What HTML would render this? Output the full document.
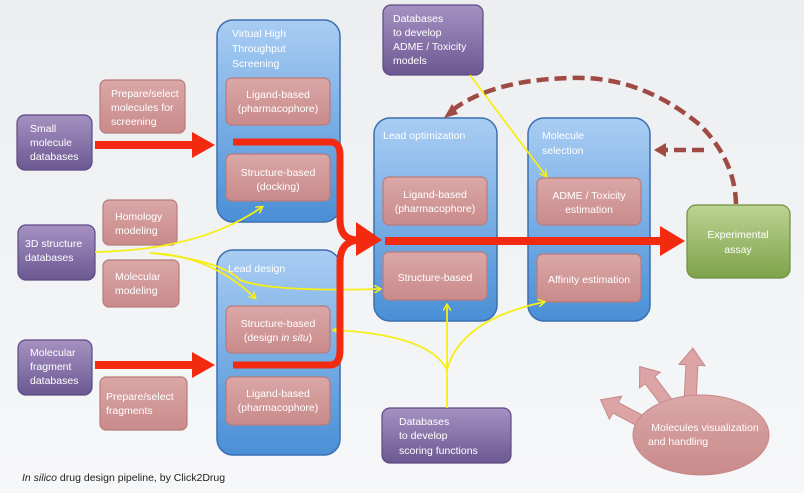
<!DOCTYPE html>
<html><head><meta charset="utf-8"><style>
body{margin:0;width:804px;height:493px;overflow:hidden;background:linear-gradient(#eceef0,#f6f7f9);font-family:"Liberation Sans",sans-serif}
svg{display:block}
svg text{font-family:"Liberation Sans",sans-serif;fill:#fff;font-size:10.5px}
</style></head><body>
<svg width="804" height="493" viewBox="0 0 804 493">
<defs>
<linearGradient id="blue" x1="0" y1="0" x2="0" y2="1"><stop offset="0" stop-color="#a9cdf3"/><stop offset="1" stop-color="#4a8fd6"/></linearGradient>
<linearGradient id="purp" x1="0" y1="0" x2="0" y2="1"><stop offset="0" stop-color="#a592c2"/><stop offset="1" stop-color="#6c5892"/></linearGradient>
<linearGradient id="pink" x1="0" y1="0" x2="0" y2="1"><stop offset="0" stop-color="#dba7a7"/><stop offset="1" stop-color="#c98a8a"/></linearGradient>
<linearGradient id="green" x1="0" y1="0" x2="0" y2="1"><stop offset="0" stop-color="#bcd494"/><stop offset="1" stop-color="#7ea24a"/></linearGradient>
<marker id="ya" markerWidth="8" markerHeight="8" refX="6" refY="4" orient="auto" markerUnits="userSpaceOnUse"><path d="M0,0 L7,4 L0,8" fill="none" stroke="#f5ee1a" stroke-width="1.5"/></marker>
</defs>
<g stroke="#3b6fb0" stroke-width="1.5">
<rect x="217" y="20" width="123" height="202" rx="16" fill="url(#blue)"/>
<rect x="217" y="250" width="123" height="205" rx="16" fill="url(#blue)"/>
<rect x="374" y="118" width="123" height="203" rx="16" fill="url(#blue)"/>
<rect x="528" y="118" width="122" height="203" rx="16" fill="url(#blue)"/>
</g>
<g stroke="#5d4a82" stroke-width="1.2" fill="url(#purp)">
<rect x="17" y="115" width="75" height="55" rx="8"/>
<rect x="18" y="225" width="77" height="55" rx="8"/>
<rect x="18" y="340" width="74" height="55" rx="8"/>
<rect x="383" y="5" width="100" height="70" rx="8"/>
<rect x="382" y="408" width="129" height="55" rx="8"/>
</g>
<g stroke="#b87b7b" stroke-width="1.2" fill="url(#pink)">
<rect x="100" y="80" width="85" height="53" rx="6"/>
<rect x="103" y="200" width="74" height="45" rx="6"/>
<rect x="103" y="260" width="76" height="47" rx="6"/>
<rect x="100" y="377" width="87" height="53" rx="6"/>
<rect x="226" y="78" width="104" height="47" rx="6"/>
<rect x="226" y="154" width="104" height="47" rx="6"/>
<rect x="226" y="306" width="104" height="47" rx="6"/>
<rect x="226" y="377" width="104" height="48" rx="6"/>
<rect x="383" y="177" width="104" height="48" rx="6"/>
<rect x="383" y="252" width="104" height="48" rx="6"/>
<rect x="537" y="178" width="104" height="47" rx="6"/>
<rect x="537" y="254" width="104" height="48" rx="6"/>
</g>
<rect x="687" y="205" width="103" height="73" rx="9" fill="url(#green)" stroke="#6f9040" stroke-width="1.2"/>
<!-- pink arrows -->
<g fill="#dca4a4" stroke="#c58888" stroke-width="1">
<path transform="translate(650,426) rotate(208)" d="M0,-6 L39,-6 L39,-13 L56,0 L39,13 L39,6 L0,6Z"/>
<path transform="translate(674,412) rotate(233)" d="M0,-6 L40,-6 L40,-13 L57,0 L40,13 L40,6 L0,6Z"/>
<path transform="translate(690,402) rotate(273)" d="M0,-6 L37,-6 L37,-13 L54,0 L37,13 L37,6 L0,6Z"/>
</g>
<ellipse cx="701" cy="435" rx="68" ry="40" fill="url(#pink)" stroke="#c58888"/>
<!-- yellow lines -->
<g stroke="#f5ee1a" stroke-width="1.8" fill="none">
<path d="M470,75 L546,176" marker-end="url(#ya)"/>
<path d="M95,252 Q200,250 262,207" marker-end="url(#ya)"/>
<path d="M150,253 Q210,255 255,298" marker-end="url(#ya)"/>
<path d="M150,253 Q220,260 240,280 Q270,292 380,289" marker-end="url(#ya)"/>
<path d="M447,408 L447,305" marker-end="url(#ya)"/>
<path d="M447,370 Q460,320 544,302" marker-end="url(#ya)"/>
<path d="M447,370 Q430,335 334,330" marker-end="url(#ya)"/>
</g>
<!-- red arrows -->
<g fill="#f22a10">
<path d="M95,141 L192,141 L192,132 L215,145 L192,158 L192,149 L95,149Z"/>
<path d="M95,361 L192,361 L192,352 L215,365 L192,378 L192,369 L95,369Z"/>
<path d="M385,237 L660,237 L660,226 L685,241 L660,256 L660,245 L385,245Z"/>
<path d="M356,229 L356,222 L382,240 L356,256 L356,249Z"/>
</g>
<g stroke="#f22a10" stroke-width="7" fill="none">
<path d="M233,142 L330,142 Q340,142 340,155 L340,220 Q340,240 358,240"/>
<path d="M233,365 L330,365 Q340,365 340,350 L340,262 Q340,242 358,240"/>
</g>
<!-- dashed brown -->
<g stroke="#a04a44" stroke-width="4.5" fill="none" stroke-dasharray="12,6">
<path d="M736,204 Q735,160 700,125 Q640,75 570,78 Q490,80 450,112"/>
<path d="M704,150 L662,150"/>
</g>
<path d="M444,118 L452,104 L458,114Z" fill="#a04a44"/>
<path d="M654,150 L666,143 L666,157Z" fill="#a04a44"/>
<!-- texts -->
<text x="30" y="132">Small</text><text x="30" y="146">molecule</text><text x="30" y="160">databases</text>
<text x="25" y="247">3D structure</text><text x="25" y="261">databases</text>
<text x="30" y="356">Molecular</text><text x="30" y="370">fragment</text><text x="30" y="384">databases</text>
<text x="393" y="22">Databases</text><text x="393" y="36">to develop</text><text x="393" y="50">ADME / Toxicity</text><text x="393" y="64">models</text>
<text x="399" y="425">Databases</text><text x="399" y="439">to develop</text><text x="399" y="454">scoring functions</text>
<text x="111" y="97">Prepare/select</text><text x="111" y="111">molecules for</text><text x="111" y="125">screening</text>
<text x="115" y="220">Homology</text><text x="115" y="234">modeling</text>
<text x="115" y="280">Molecular</text><text x="115" y="294">modeling</text>
<text x="106" y="400">Prepare/select</text><text x="106" y="414">fragments</text>
<text x="232" y="37">Virtual High</text><text x="232" y="52">Throughput</text><text x="232" y="67">Screening</text>
<text x="228" y="272">Lead design</text>
<text x="383" y="139">Lead optimization</text>
<text x="542" y="139">Molecule</text><text x="542" y="154">selection</text>
<g text-anchor="middle">
<text x="278" y="98">Ligand-based</text><text x="278" y="112">(pharmacophore)</text>
<text x="278" y="176">Structure-based</text><text x="278" y="190">(docking)</text>
<text x="278" y="327">Structure-based</text><text x="278" y="341">(design <tspan font-style="italic">in situ</tspan>)</text>
<text x="278" y="397">Ligand-based</text><text x="278" y="411">(pharmacophore)</text>
<text x="435" y="198">Ligand-based</text><text x="435" y="212">(pharmacophore)</text>
<text x="435" y="281">Structure-based</text>
<text x="589" y="199">ADME / Toxicity</text><text x="589" y="213">estimation</text>
<text x="589" y="283">Affinity estimation</text>
<text x="738" y="238">Experimental</text><text x="738" y="253">assay</text>
<text x="705" y="431">Molecules visualization</text>
</g>
<text x="648" y="445">and handling</text>
<text x="22" y="481" style="fill:#222">
<tspan font-style="italic">In silico</tspan> drug design pipeline, by Click2Drug</text>
</svg>
</body></html>
